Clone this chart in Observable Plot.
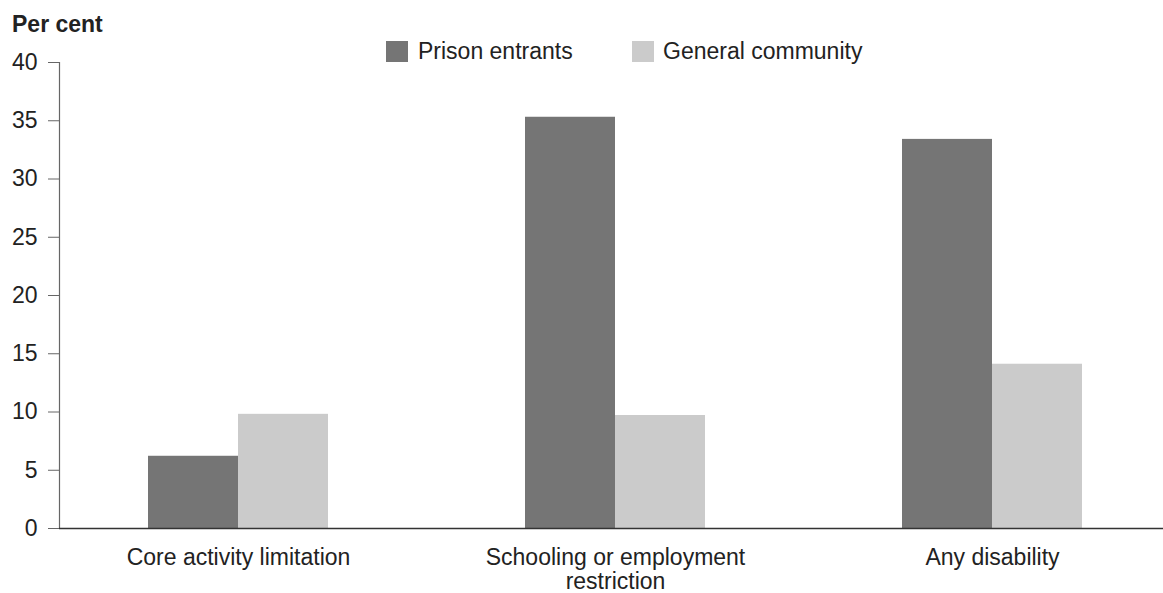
<!DOCTYPE html>
<html>
<head>
<meta charset="utf-8">
<script src="https://cdn.jsdelivr.net/npm/d3@7"></script>
<script src="https://cdn.jsdelivr.net/npm/@observablehq/plot@0.6"></script>
<style>
  html, body { margin: 0; padding: 0; background: #fff; }
  body { width: 1163px; height: 593px; overflow: hidden; font-family: "Liberation Sans", Arial, sans-serif; color: #222; }
  #header { position: relative; height: 50px; }
  #unit { position: absolute; left: 12px; top: 11px; font-weight: bold; font-size: 23px; line-height: 26px; }
  .sw { position: absolute; top: 41px; width: 22px; height: 21px; }
  .lt { position: absolute; top: 38px; font-size: 23px; line-height: 26px; }
</style>
</head>
<body>
<div id="header"></div>
<div id="chart"></div>
<script>
const categories = ["Core activity limitation", "Schooling or employment restriction", "Any disability"];
const tickLabels = ["Core activity limitation", "Schooling or employment\nrestriction", "Any disability"];
const series = ["Prison entrants", "General community"];
const prisonEntrants = [6.2, 35.3, 33.4];
const generalCommunity = [9.8, 9.7, 14.1];
const colors = ["#757575", "#cbcbcb"];
const yTicks = [0, 5, 10, 15, 20, 25, 30, 35, 40];
const unitLabel = "Per cent";

const rows = [];
categories.forEach((c, i) => {
  rows.push({category: c, series: series[0], value: prisonEntrants[i]});
  rows.push({category: c, series: series[1], value: generalCommunity[i]});
});

// Header: unit label + legend
const header = document.getElementById("header");
const unit = document.createElement("div");
unit.id = "unit"; unit.textContent = unitLabel;
header.appendChild(unit);
const legendPos = [{sw: 386, tx: 418}, {sw: 632, tx: 663}];
series.forEach((s, i) => {
  const sw = document.createElement("div");
  sw.className = "sw"; sw.style.left = legendPos[i].sw + "px"; sw.style.background = colors[i];
  const t = document.createElement("div");
  t.className = "lt"; t.style.left = legendPos[i].tx + "px"; t.textContent = s;
  header.appendChild(sw); header.appendChild(t);
});

const labelOf = new Map(categories.map((c, i) => [c, tickLabels[i]]));

const chart = Plot.plot({
  width: 1163,
  height: 543,
  marginLeft: 59,
  marginRight: 0,
  marginTop: 12,
  marginBottom: 65,
  style: {fontFamily: "Liberation Sans, Arial, sans-serif", fontSize: "23px", color: "#222", background: "#fff", overflow: "visible"},
  x: {type: "band", domain: categories, paddingInner: 0.5232, paddingOuter: 0.2239, align: 0.52},
  y: {domain: [0, 40]},
  color: {domain: series, range: colors},
  marks: [
    Plot.barY(rows.filter(d => d.series === series[0]), {x: "category", y: "value", fill: "series", insetRight: 90}),
    Plot.barY(rows.filter(d => d.series === series[1]), {x: "category", y: "value", fill: "series", insetLeft: 90}),
    Plot.frame({anchor: "left", stroke: "#666", strokeWidth: 1.2}),
    Plot.ruleY([0], {stroke: "#333", strokeWidth: 1.4}),
    Plot.axisY({ticks: yTicks, tickSize: 11, tickPadding: 11, stroke: "#666", fill: "#222", fontSize: 23, label: null}),
    Plot.axisX({tickSize: 0, tickPadding: 19, tickFormat: d => labelOf.get(d), fill: "#222", fontSize: 23, lineHeight: 1.06, label: null})
  ]
});
document.getElementById("chart").appendChild(chart);
</script>
</body>
</html>
